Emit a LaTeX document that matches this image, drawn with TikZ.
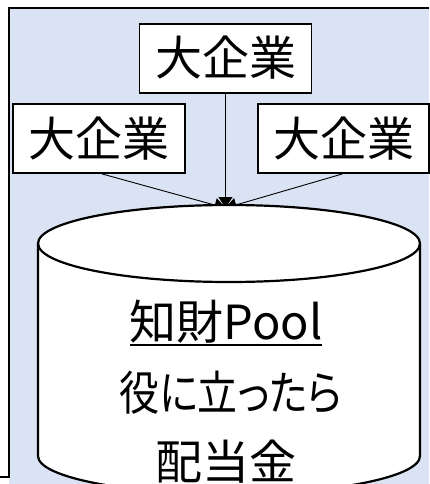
\documentclass[tikz,border=0pt]{standalone}
\usepackage{fontspec}
\usepackage{graphicx}
\setmainfont{Noto Sans CJK JP}
\newfontfamily\paltfont{Noto Sans CJK JP}[RawFeature=+palt]
\usetikzlibrary{arrows.meta}
\definecolor{bgblue}{HTML}{DAE3F3}
\newcommand\poolul[1]{{\setbox0=\hbox{#1}\rlap{\copy0}\rule[-7pt]{\wd0}{1.8pt}}}
\begin{document}
\begin{tikzpicture}[x=1pt,y=-1pt,
  firm/.style={draw, line width=1.8pt, fill=white, minimum width=172pt, minimum height=69pt,
    inner sep=0pt, font=\fontsize{47}{55}\selectfont, text height=40pt, text depth=5pt},
  link/.style={line width=0.9pt, -{Triangle[width=14pt,length=11pt]}},
  pooltxt/.style={anchor=base, inner sep=0pt, font=\paltfont\fontsize{47}{55}\selectfont}]
\useasboundingbox (0,0) rectangle (429,484);
\fill[bgblue] (9,8) rectangle (429,484);
\draw[line width=2.6pt] (429,8) -- (9,8) -- (9,477) -- (0,477);
\node[firm] (top) at (225.5,58.5) {大企業};
\node[firm] (left) at (99,138.5) {大企業};
\node[firm, minimum width=171pt] (right) at (343.5,138.5) {大企業};
\coordinate (pooltop) at (225.5,208);
\draw[link] (top.south) -- (pooltop);
\draw[link] ([xshift=3pt]left.south) -- (pooltop);
\draw[link] ([xshift=-1pt]right.south) -- (pooltop);
\draw[line width=2.2pt, fill=white] (38,243.5) -- (38,456)
  arc[start angle=180, end angle=0, x radius=191, y radius=38] -- (420,243.5)
  arc[start angle=0, end angle=-180, x radius=191, y radius=38.5] -- cycle;
\draw[line width=2.2pt] (38,243.5) arc[start angle=180, end angle=0, x radius=191, y radius=38.5];
\node[pooltxt] (pool1) at (226,339) {\poolul{知財Pool}};
\node[pooltxt] (pool2) at (231,410) {\scalebox{0.85}[1]{役に立ったら}};
\node[pooltxt] (pool3) at (226,479) {配当金};
\end{tikzpicture}
\end{document}
